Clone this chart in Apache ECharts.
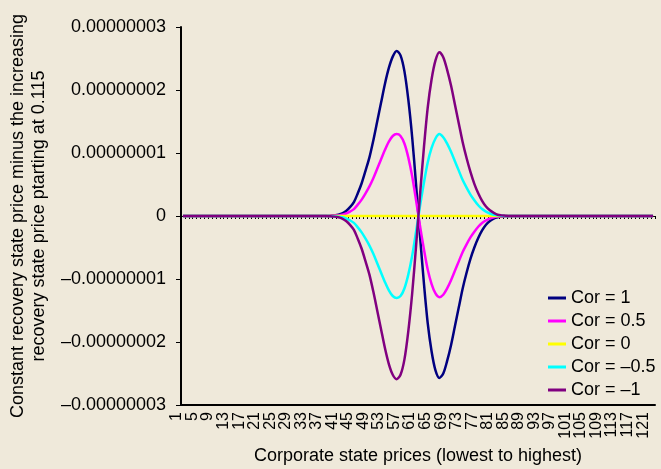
<!DOCTYPE html>
<html>
<head>
<meta charset="utf-8">
<script src="https://cdn.jsdelivr.net/npm/echarts@6/dist/echarts.min.js"></script>
<style>
html,body{margin:0;padding:0;background:#efe9da;}
#c{width:661px;height:469px;}
</style>
</head>
<body>
<div id="c"></div>
<script>
// Values in units of 1e-8
var SCALE = 1e-8;
var categories = [];
for (var k = 1; k <= 122; k++) categories.push(String(k));
var LABEL_STEP = 4;

var corPos1 = [
0,0,0,0,0,0,0,0,0,0, 0,0,0,0,0,0,0,0,0,0,
0,0,0,0,0,0,0,0,0,0, 0,0,0,0,0,0,0,0,0.005,0.01,
0.02,0.04,0.08,0.14,0.22,0.36,0.52,0.72,0.93,1.2,
1.5,1.8,2.1,2.35,2.53,2.62,2.55,2.3,1.85,1.25,
0.5,-0.3,-1.05,-1.7,-2.15,-2.45,-2.57,-2.5,-2.3,-2.05,
-1.75,-1.45,-1.15,-0.9,-0.68,-0.5,-0.35,-0.23,-0.14,-0.08,
-0.04,-0.02,-0.01,-0.005,0,0,0,0,0,0,
0,0,0,0,0,0,0,0,0,0, 0,0,0,0,0,0,0,0,0,0,
0,0,0,0,0,0,0,0,0,0, 0,0
];
var corPos05 = [
0,0,0,0,0,0,0,0,0,0, 0,0,0,0,0,0,0,0,0,0,
0,0,0,0,0,0,0,0,0,0, 0,0,0,0,0,0,0,0,0.003,0.006,
0.01,0.02,0.04,0.07,0.11,0.18,0.26,0.36,0.47,0.6,
0.75,0.9,1.05,1.18,1.27,1.3,1.27,1.15,0.93,0.63,
0.25,-0.15,-0.52,-0.85,-1.08,-1.23,-1.29,-1.25,-1.15,-1.02,
-0.87,-0.72,-0.57,-0.45,-0.34,-0.25,-0.17,-0.11,-0.07,-0.04,
-0.02,-0.01,-0.005,0,0,0,0,0,0,0,
0,0,0,0,0,0,0,0,0,0, 0,0,0,0,0,0,0,0,0,0,
0,0,0,0,0,0,0,0,0,0, 0,0
];
var corZero = [
0,0,0,0,0,0,0,0,0,0, 0,0,0,0,0,0,0,0,0,0,
0,0,0,0,0,0,0,0,0,0, 0,0,0,0,0,0,0,0,0,0,
0,0,0,0,0,0,0,0,0,0, 0,0,0,0,0,0,0,0,0,0,
0,0,0,0,0,0,0,0,0,0, 0,0,0,0,0,0,0,0,0,0,
0,0,0,0,0,0,0,0,0,0, 0,0,0,0,0,0,0,0,0,0,
0,0,0,0,0,0,0,0,0,0, 0,0,0,0,0,0,0,0,0,0,
0,0
];
var corNeg05 = [
0,0,0,0,0,0,0,0,0,0, 0,0,0,0,0,0,0,0,0,0,
0,0,0,0,0,0,0,0,0,0, 0,0,0,0,0,0,0,0,-0.003,-0.006,
-0.01,-0.02,-0.04,-0.07,-0.11,-0.18,-0.26,-0.36,-0.47,-0.6,
-0.75,-0.9,-1.05,-1.18,-1.27,-1.3,-1.27,-1.15,-0.93,-0.63,
-0.25,0.15,0.52,0.85,1.08,1.23,1.3,1.25,1.15,1.02,
0.87,0.72,0.57,0.45,0.34,0.25,0.17,0.11,0.07,0.04,
0.02,0.01,0.005,0,0,0,0,0,0,0,
0,0,0,0,0,0,0,0,0,0, 0,0,0,0,0,0,0,0,0,0,
0,0,0,0,0,0,0,0,0,0, 0,0
];
var corNeg1 = [
0,0,0,0,0,0,0,0,0,0, 0,0,0,0,0,0,0,0,0,0,
0,0,0,0,0,0,0,0,0,0, 0,0,0,0,0,0,0,0,-0.005,-0.01,
-0.02,-0.04,-0.08,-0.14,-0.22,-0.36,-0.52,-0.72,-0.93,-1.2,
-1.5,-1.8,-2.1,-2.35,-2.52,-2.59,-2.52,-2.28,-1.83,-1.23,
-0.48,0.32,1.07,1.72,2.17,2.47,2.6,2.52,2.32,2.07,
1.77,1.47,1.17,0.92,0.7,0.51,0.36,0.24,0.15,0.09,
0.05,0.02,0.01,0.005,0,0,0,0,0,0,
0,0,0,0,0,0,0,0,0,0, 0,0,0,0,0,0,0,0,0,0,
0,0,0,0,0,0,0,0,0,0, 0,0
];
var seriesNames = ['Cor = 1','Cor = 0.5','Cor = 0','Cor = \u20130.5','Cor = \u20131'];
var seriesColors = ['#000080','#ff00ff','#ffff00','#00ffff','#800080'];
var seriesData = [corPos1, corPos05, corZero, corNeg05, corNeg1];

var FONT = 'Liberation Sans, Arial, sans-serif';
function yLabel(v){
  var k = Math.round(v / SCALE);
  if (k === 0) return '0';
  return (k < 0 ? '\u2013' : '') + '0.0000000' + Math.abs(k);
}
function xLabel(value, index){
  return (index % LABEL_STEP === 0) ? value : '';
}

var chart = echarts.init(document.getElementById('c'));
chart.setOption({
  backgroundColor: '#efe9da',
  animation: false,
  grid: {left: 181, right: 6, top: 27, bottom: 64, containLabel: false, outerBoundsMode: 'none'},
  legend: {
    orient: 'vertical', left: 543, top: 284,
    itemWidth: 18, itemHeight: 3, itemGap: 5, icon: 'rect',
    textStyle: {fontFamily: FONT, fontSize: 18, color: '#000', lineHeight: 18, padding: [0,0,0,0]},
    data: seriesNames
  },
  xAxis: [{
    type: 'category', data: categories, position: 'bottom',
    boundaryGap: true,
    axisLine: {onZero: false, lineStyle: {color: '#000', width: 2}},
    axisTick: {show: false},
    axisLabel: {interval: 0, formatter: xLabel, rotate: 90, fontFamily: FONT, fontSize: 16, color: '#000', margin: 7,
                hideOverlap: false, lineHeight: 12, verticalAlign: 'bottom'},
    name: 'Corporate state prices (lowest to highest)',
    nameLocation: 'middle', nameGap: 41,
    nameTextStyle: {fontFamily: FONT, fontSize: 18, color: '#000'}
  }, {
    type: 'category', data: categories, position: 'top',
    boundaryGap: true,
    axisLine: {onZero: true, lineStyle: {color: '#000', width: 1}},
    axisTick: {show: true, interval: 0, inside: true, length: 3, lineStyle: {color: '#000', width: 1}},
    axisLabel: {show: false}
  }],
  yAxis: {
    type: 'value', min: -3e-8, max: 3e-8, interval: 1e-8,
    axisLine: {show: true, lineStyle: {color: '#000', width: 2}},
    axisTick: {show: true, length: 5, lineStyle: {color: '#000', width: 1}},
    splitLine: {show: false},
    axisLabel: {formatter: yLabel, fontFamily: FONT, fontSize: 18, color: '#000', margin: 15},
    name: 'Constant recovery state price minus the increasing\nrecovery state price ptarting at 0.115',
    nameLocation: 'middle', nameGap: 119, nameRotate: 90,
    nameTextStyle: {fontFamily: FONT, fontSize: 18, color: '#000', lineHeight: 21}
  },
  series: seriesData.map(function(arr, i){
    return {
      name: seriesNames[i], type: 'line', xAxisIndex: 0,
      data: arr.map(function(v){ return v * SCALE; }),
      smooth: 0.3, symbol: 'none',
      lineStyle: {color: seriesColors[i], width: 2.5},
      itemStyle: {color: seriesColors[i]}
    };
  })
});
</script>
</body>
</html>
